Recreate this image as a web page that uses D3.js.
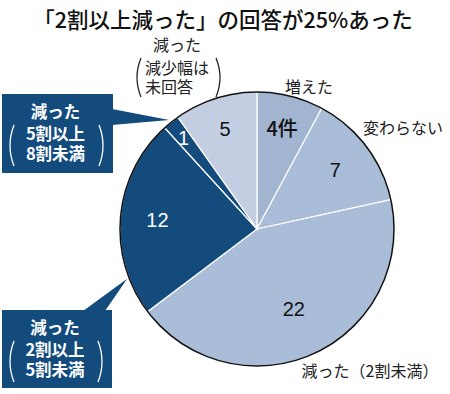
<!DOCTYPE html>
<html>
<head>
<meta charset="utf-8">
<script src="https://cdn.jsdelivr.net/npm/d3@7"></script>
<style>
  body { margin: 0; background: #fff; }
  svg { display: block; }
</style>
</head>
<body>
<div id="chart"></div>
<script>
// 回答の内訳（件数）
const categories = ['増えた', '変わらない', '減った(2割未満)', '減った(2割以上5割未満)', '減った(5割以上8割未満)', '減った(減少幅は未回答)'];
const counts = [4, 7, 22, 12, 1, 5];
const sliceLabels = ['4件', '7', '22', '12', '1', '5'];
const sliceColors = ['#a1b4d0', '#a9bcd8', '#a9bcd8', '#134b7d', '#134b7d', '#c3cee2'];
const title = '「2割以上減った」の回答が25%あった';

const W = 450, H = 394;
const cx = 257, cy = 229, R = 137;
const jp = '"Noto Sans CJK JP", sans-serif';
const num = '"Liberation Sans", Arial, sans-serif';
const dark = '#134b7d';

const svg = d3.select('#chart').append('svg').attr('width', W).attr('height', H);

svg.append('text')
  .attr('x', 223).attr('y', 28)
  .attr('text-anchor', 'middle')
  .style('font-family', jp).style('font-size', '21.5px').style('font-weight', 500)
  .attr('fill', '#111')
  .text(title);

const pie = d3.pie().sort(null).value(d => d);
const arcs = pie(counts);
const arc = d3.arc().innerRadius(0).outerRadius(R);
// ラベル位置の半径（スライスごとに少し調整）
const labelR = [103, 98, 88, 100, 117, 105];

const g = svg.append('g').attr('transform', `translate(${cx},${cy})`);

g.selectAll('path.slice')
  .data(arcs)
  .join('path')
  .attr('class', 'slice')
  .attr('d', arc)
  .attr('fill', (d, i) => sliceColors[i])
  .attr('stroke', '#fff')
  .attr('stroke-width', 1.2);

g.append('circle').attr('r', R).attr('fill', 'none').attr('stroke', '#111').attr('stroke-width', 1.5);

g.selectAll('text.val')
  .data(arcs)
  .join('text')
  .attr('class', 'val')
  .attr('transform', (d, i) => {
    const [x, y] = d3.arc().innerRadius(labelR[i]).outerRadius(labelR[i]).centroid(d);
    return `translate(${x},${y})`;
  })
  .attr('text-anchor', 'middle')
  .attr('dy', '0.36em')
  .style('font-family', (d, i) => i === 0 ? jp : num)
  .style('font-size', '20px')
  .style('font-weight', 500)
  .attr('fill', (d, i) => sliceColors[i] === dark ? '#fff' : '#111')
  .text((d, i) => sliceLabels[i]);

// 外側ラベル
const outer = [
  { x: 309, y: 93, t: '増えた' },
  { x: 403, y: 134, t: '変わらない' },
  { x: 370, y: 377, t: '減った（2割未満）' }
];
svg.selectAll('text.outer')
  .data(outer)
  .join('text')
  .attr('class', 'outer')
  .attr('x', d => d.x).attr('y', d => d.y)
  .attr('text-anchor', 'middle')
  .style('font-family', jp).style('font-size', '16px')
  .attr('fill', '#222')
  .text(d => d.t);

function paren(sel, x, y0, y1, dir, color) {
  const mid = (y0 + y1) / 2;
  sel.append('path')
    .attr('d', `M${x},${y0} Q${x - dir * 8},${mid} ${x},${y1}`)
    .attr('fill', 'none').attr('stroke', color).attr('stroke-width', 1.3);
}

// 減った（減少幅は未回答）
const noAns = svg.append('text').style('font-family', jp).style('font-size', '16px').attr('fill', '#222');
noAns.append('tspan').attr('x', 153).attr('y', 51).text('減った');
noAns.append('tspan').attr('x', 145).attr('y', 74).text('減少幅は');
noAns.append('tspan').attr('x', 145).attr('y', 93).text('未回答');
paren(svg, 141, 58, 97, 1, '#222');
paren(svg, 216, 58, 97, -1, '#222');

// 濃色の吹き出し
function callout(x, y, w, h, ptr, lines) {
  const b = svg.append('g');
  b.append('path').attr('d', ptr).attr('fill', dark);
  b.append('rect').attr('x', x).attr('y', y).attr('width', w).attr('height', h).attr('fill', dark);
  const cxb = x + w / 2 - 2;
  const t = b.append('text').attr('text-anchor', 'middle')
    .style('font-family', jp).style('font-size', '16.5px').style('font-weight', 700)
    .attr('fill', '#fff');
  [24, 46, 66].forEach((dy, k) => {
    t.append('tspan').attr('x', cxb).attr('y', y + dy).text(lines[k]);
  });
  paren(b, x + 12, y + 31, y + 72, 1, '#fff');
  paren(b, x + w - 14, y + 31, y + 72, -1, '#fff');
}

const pt = (a, r) => [cx + r * Math.sin(a), cy - r * Math.cos(a)];

const a1 = (arcs[4].startAngle + arcs[4].endAngle) / 2;
const tip1 = pt(a1, R + 3);
callout(2, 94, 111, 79, `M112,109 L${tip1[0]},${tip1[1]} L112,125 Z`, ['減った', '5割以上', '8割未満']);

const a2 = arcs[3].startAngle + (arcs[3].endAngle - arcs[3].startAngle) * 0.19;
const tip2 = pt(a2, R + 2);
callout(2, 310, 110, 78, `M83,311 L${tip2[0]},${tip2[1]} L105,311 Z`, ['減った', '2割以上', '5割未満']);
</script>
</body>
</html>
